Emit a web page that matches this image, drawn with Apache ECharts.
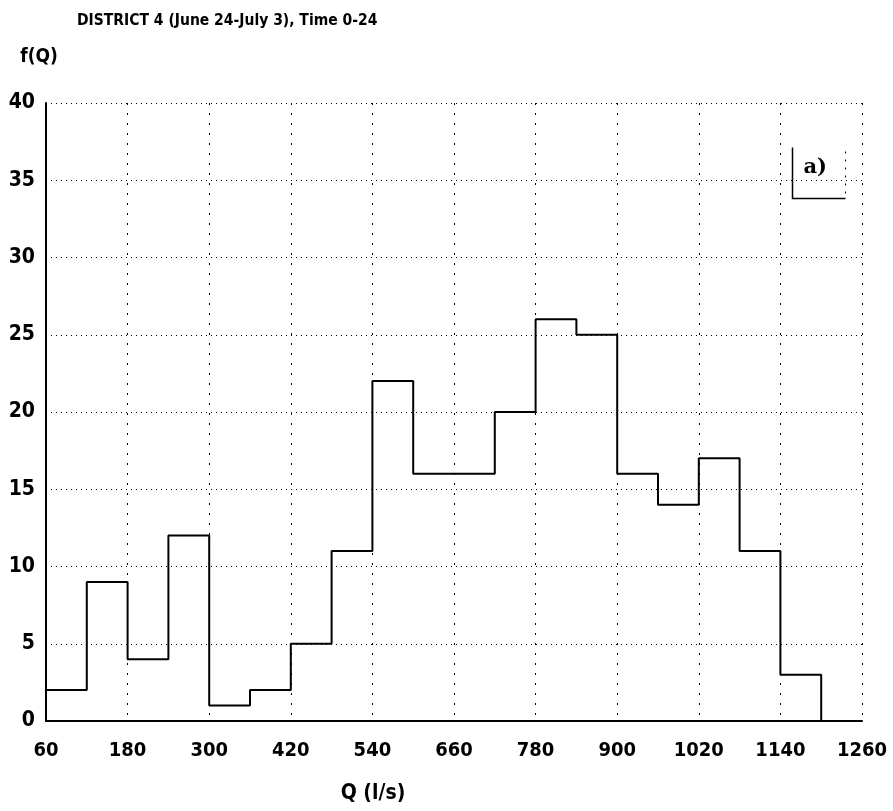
<!DOCTYPE html>
<html>
<head>
<meta charset="utf-8">
<script src="https://cdn.jsdelivr.net/npm/echarts@6/dist/echarts.min.js"></script>
<style>
	html, body { margin: 0; padding: 0; background: #fff; }
	#chart { width: 893px; height: 811px; }
</style>
</head>
<body>
<div id="chart"></div>
<script>
// left edge of each 60 l/s class and its frequency
var binStart = [60, 120, 180, 240, 300, 360, 420, 480, 540, 600, 660, 720, 780, 840, 900, 960, 1020, 1080, 1140];
var freq = [2, 9, 4, 12, 1, 2, 5, 11, 22, 16, 16, 20, 26, 25, 16, 14, 17, 11, 3];
var lastEdge = 1200;
var xTicks = [60, 180, 300, 420, 540, 660, 780, 900, 1020, 1140, 1260];
var yTicks = [0, 5, 10, 15, 20, 25, 30, 35, 40];

var FONT = "'DejaVu Sans Condensed', 'Liberation Sans Narrow', sans-serif";

// step points: start at the baseline, one point per class, close at the baseline
var pts = [[binStart[0], 0]];
for (var i = 0; i < binStart.length; i++) pts.push([binStart[i], freq[i]]);
pts.push([lastEdge, 0]);

var chart = echarts.init(document.getElementById("chart"));
chart.setOption({
	backgroundColor: "#fff",
	animation: false,
	title: {
		text: "DISTRICT 4 (June 24-July 3), Time 0-24",
		left: 72,
		top: 8,
		textStyle: { fontFamily: FONT, fontSize: 15.5, fontWeight: "bold", color: "#000" }
	},
	grid: { left: 46, right: 31, top: 103, bottom: 90 },
	xAxis: {
		type: "value",
		min: xTicks[0],
		max: xTicks[xTicks.length - 1],
		interval: xTicks[1] - xTicks[0],
		name: "Q (l/s)",
		nameLocation: "middle",
		nameGap: 62,
		nameTextStyle: { fontFamily: FONT, fontSize: 21, fontWeight: "bold", color: "#000", padding: [0, 162, 0, 0] },
		axisLine: { lineStyle: { color: "#000", width: 2 } },
		axisTick: { show: false },
		axisLabel: {
			fontFamily: FONT, fontSize: 20, fontWeight: "bold", color: "#000", margin: 20,
			showMinLabel: true, showMaxLabel: true,
			formatter: function (v) { return String(v); }
		},
		splitLine: { show: true, lineStyle: { color: "#000", width: 1, type: [2, 8] } }
	},
	yAxis: {
		type: "value",
		min: yTicks[0],
		max: yTicks[yTicks.length - 1],
		interval: yTicks[1] - yTicks[0],
		name: "f(Q)",
		nameLocation: "end",
		nameGap: 36,
		nameTextStyle: { fontFamily: FONT, fontSize: 19, fontWeight: "bold", color: "#000", align: "center", padding: [0, 14, 0, 0] },
		axisLine: { show: true, lineStyle: { color: "#000", width: 2 } },
		axisTick: { show: false },
		axisLabel: { fontFamily: FONT, fontSize: 21, fontWeight: "bold", color: "#000", margin: 11 },
		splitLine: { show: true, lineStyle: { color: "#000", width: 1, type: [1, 4] } }
	},
	series: [{
		type: "line",
		step: "end",
		data: pts,
		symbol: "none",
		lineStyle: { color: "#000", width: 2 },
		z: 3
	}],
	graphic: [{
		type: "group",
		left: 790,
		top: 145,
		children: [
			{ type: "rect", shape: { x: 0, y: 0, width: 53, height: 51 }, style: { fill: "#fff" } },
			{ type: "polyline", shape: { points: [[0, 0], [0, 51], [53, 51]] }, style: { stroke: "#000", lineWidth: 1.5, fill: null } },
			{ type: "line", shape: { x1: 53, y1: 4, x2: 53, y2: 51 }, style: { stroke: "#000", lineWidth: 1, lineDash: [2, 6] } },
			{ type: "text", x: 11, y: 10, style: { text: "a)", font: "bold 21px 'DejaVu Serif', serif", fill: "#000" } }
		]
	}]
});
</script>
</body>
</html>
